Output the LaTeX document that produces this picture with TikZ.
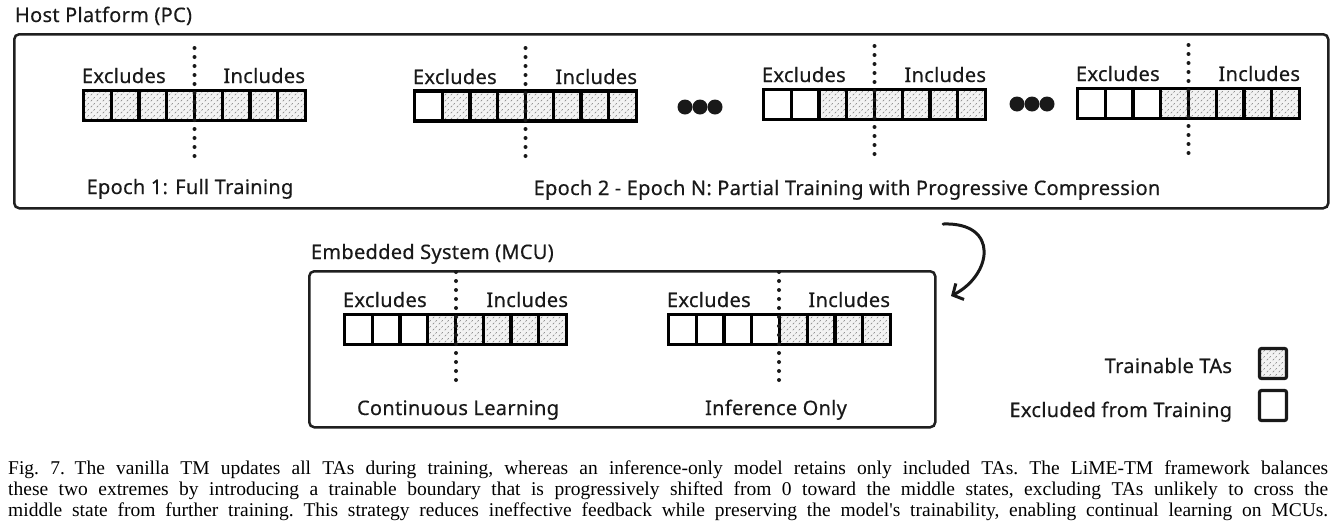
\documentclass[tikz,border=0pt]{standalone}
\usepackage{fontspec}
\setmainfont{Noto Sans}[LetterSpace=1.5,FakeBold=0.4]
\newfontfamily\capfont{Liberation Serif}
\usetikzlibrary{arrows.meta,patterns}

\pgfdeclarepatternformonly{tadash}{\pgfpointorigin}{\pgfpoint{6pt}{6pt}}{\pgfpoint{6pt}{6pt}}{%
  \pgfsetlinewidth{0.5pt}%
  \pgfsetroundcap%
  \pgfpathmoveto{\pgfpoint{0.8pt}{0.8pt}}\pgfpathlineto{\pgfpoint{2.4pt}{2.4pt}}%
  \pgfpathmoveto{\pgfpoint{3.9pt}{3.9pt}}\pgfpathlineto{\pgfpoint{5.3pt}{5.3pt}}%
  \pgfusepath{stroke}}

\tikzset{
  cellbox/.style={draw=black, line width=3.2pt, minimum width=27.75pt, minimum height=30pt, inner sep=0pt, outer sep=0pt},
  trainbox/.style={cellbox, preaction={fill=gray!10}, pattern=tadash, pattern color=black!50},
  emptybox/.style={cellbox, fill=white},
  panel/.style={draw=black!88, line width=2.5pt, rounded corners=5pt},
  lbl/.style={inner sep=0pt, outer sep=0pt, text=black!90, font=\fontsize{20}{22}\selectfont},
  ttl/.style={inner sep=0pt, outer sep=0pt, text=black!90, font=\fontsize{20}{22}\selectfont},
  boundary/.style={line width=4pt, line cap=round, dash pattern=on 0pt off 9pt, black!90},
  bigdot/.style={circle, fill=black!90, minimum size=15pt, inner sep=0pt},
  legbox/.style={draw=black!90, line width=3.2pt, rounded corners=2pt, minimum width=27pt, minimum height=30pt, inner sep=0pt},
}

% name, left outer x, centre y, number of empty cells
\newcommand\tastrip[4]{%
  \foreach \i in {1,...,8}{%
    \ifnum\i>#4\relax
      \node[trainbox] (#1c\i) at ({#2+1.5+(\i-0.5)*27.75},#3) {};
    \else
      \node[emptybox] (#1c\i) at ({#2+1.5+(\i-0.5)*27.75},#3) {};
    \fi
  }%
}

\begin{document}
\begin{tikzpicture}[x=1pt,y=-1pt]
\useasboundingbox (0,0) rectangle (1338,528);

% panels
\node[panel, anchor=north west, minimum width=1314pt, minimum height=174pt] (host) at (13,33) {};
\node[ttl, anchor=base west] (hosttitle) at (15,22) {Host Platform (PC)};
\node[panel, anchor=north west, minimum width=626pt, minimum height=156pt] (mcu) at (308,270) {};
\node[ttl, anchor=base west] (mcutitle) at (311,259) {Embedded System (MCU)};

% host strips
\tastrip{s1}{82}{105.5}{0}
\tastrip{s2}{413}{106}{1}
\tastrip{s3}{762}{104.5}{2}
\tastrip{s4}{1076}{103.5}{3}

\coordinate (b1t) at (194.5,48);  \coordinate (b1b) at (194.5,158);
\coordinate (b2t) at (525.5,48);  \coordinate (b2b) at (525.5,158);
\coordinate (b3t) at (874.5,46);  \coordinate (b3b) at (874.5,156);
\coordinate (b4t) at (1188.5,45); \coordinate (b4b) at (1188.5,155);
\draw[boundary] (b1t) -- (b1b);
\draw[boundary] (b2t) -- (b2b);
\draw[boundary] (b3t) -- (b3b);
\draw[boundary] (b4t) -- (b4b);

\node[lbl, anchor=base west] (s1ex) at (82,83) {Excludes};
\node[lbl, anchor=base east] (s1in) at (305,83) {Includes};
\node[lbl, anchor=base west] (s2ex) at (413,84) {Excludes};
\node[lbl, anchor=base east] (s2in) at (637,84) {Includes};
\node[lbl, anchor=base west] (s3ex) at (762,82) {Excludes};
\node[lbl, anchor=base east] (s3in) at (986,82) {Includes};
\node[lbl, anchor=base west] (s4ex) at (1076,81) {Excludes};
\node[lbl, anchor=base east] (s4in) at (1300,81) {Includes};

\node[bigdot] (d1) at (685,107) {};
\node[bigdot] (d2) at (700,107) {};
\node[bigdot] (d3) at (715,107) {};
\node[bigdot] (d4) at (1017,104) {};
\node[bigdot] (d5) at (1032,104) {};
\node[bigdot] (d6) at (1047,104) {};

\node[lbl, anchor=base] (ep1) at (190,194) {Epoch 1: Full Training};
\node[lbl, anchor=base] (ep2) at (847,195) {Epoch 2 - Epoch N: Partial Training with Progressive Compression};

% MCU strips
\tastrip{m1}{343}{329.5}{3}
\tastrip{m2}{667}{329.5}{4}
\coordinate (b5t) at (456,272); \coordinate (b5b) at (456,383);
\coordinate (b6t) at (779,272); \coordinate (b6b) at (779,383);
\draw[boundary] (b5t) -- (b5b);
\draw[boundary] (b6t) -- (b6b);

\node[lbl, anchor=base west] (m1ex) at (343,307) {Excludes};
\node[lbl, anchor=base east] (m1in) at (568,307) {Includes};
\node[lbl, anchor=base west] (m2ex) at (667,307) {Excludes};
\node[lbl, anchor=base east] (m2in) at (890,307) {Includes};
\node[lbl, anchor=base] (cl) at (458,415) {Continuous Learning};
\node[lbl, anchor=base] (io) at (776,415) {Inference Only};

% curved arrow
\coordinate (arrS) at (943,224);
\coordinate (arrE) at (951,296);
\draw[line width=3pt, line cap=round, line join=round, black!90, -{Straight Barb[length=8pt,width=18pt,line width=3pt]}]
  (arrS) .. controls (1000,222) and (992,275) .. (arrE);

% legend
\node[legbox, preaction={fill=gray!10}, pattern=tadash, pattern color=black!50] (legT) at (1273,363.5) {};
\node[legbox, fill=white] (legE) at (1273,405.5) {};
\node[lbl, anchor=base east] (legTt) at (1232,373) {Trainable TAs};
\node[lbl, anchor=base east] (legEt) at (1232,417) {Excluded from Training};

% caption
\node[anchor=base west, inner sep=0pt] (caption) at (8,474) {\parbox[t]{1320pt}{\capfont\fontsize{19.5}{21.2}\selectfont\frenchspacing\parfillskip=0pt\relax
Fig.~7.\enskip The vanilla TM updates all TAs during training, whereas an inference-only model retains only included TAs. The LiME-TM framework balances\linebreak
these two extremes by introducing a trainable boundary that is progressively shifted from 0 toward the middle states, excluding TAs unlikely to cross the\linebreak
middle state from further training. This strategy reduces ineffective feedback while preserving the model's trainability, enabling continual learning on MCUs.}};
\end{tikzpicture}
\end{document}
